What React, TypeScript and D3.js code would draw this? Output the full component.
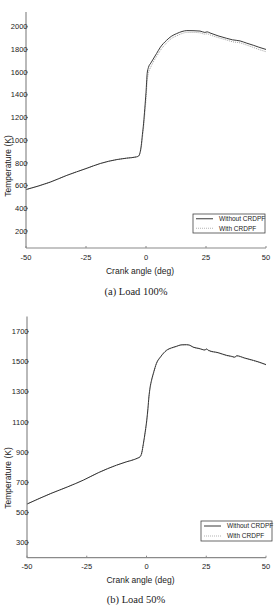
import { useMemo } from 'react';
import * as d3 from "d3";

// crank angle (deg) and in-cylinder temperature (K)
const anglesFull = [-50, -40, -33, -25, -19, -12, -8, -4, -3, -2.5, -2, -1.5, -1, -0.5, 0, 0.5, 1, 2, 3, 4.4, 6, 8.6, 10.5, 12.8, 15, 17, 20, 22.5, 24.5, 25.5, 26.7, 30, 33.6, 36, 39.2, 42, 44.7, 47, 50];
const fullWithout = [565, 630, 690, 750, 795, 830, 842, 853, 862, 890, 950, 1050, 1150, 1280, 1420, 1590, 1640, 1680, 1715, 1764, 1820, 1881, 1915, 1940, 1958, 1966, 1965, 1962, 1950, 1955, 1945, 1920, 1898, 1885, 1875, 1855, 1837, 1820, 1800];
const fullWith = [565, 630, 690, 750, 795, 830, 842, 853, 862, 885, 930, 1020, 1110, 1230, 1360, 1520, 1590, 1645, 1688, 1738, 1792, 1858, 1895, 1920, 1940, 1950, 1950, 1946, 1935, 1938, 1928, 1905, 1883, 1868, 1858, 1838, 1818, 1800, 1780];

const anglesHalf = [-50, -40, -33, -26.5, -20, -12.5, -8.4, -5, -3.5, -2.7, -2, -1.3, -0.5, 0.1, 0.6, 1, 1.5, 2.1, 3, 4.1, 6, 8.3, 10.5, 12.5, 14.5, 16.7, 18, 19.5, 22, 24.5, 25, 26, 30, 33.6, 35.5, 37, 37.7, 41, 44.7, 47, 50];
const halfWithout = [556, 626, 670, 714, 765, 814, 836, 852, 862, 869, 895, 958, 1040, 1112, 1190, 1266, 1330, 1377, 1430, 1487, 1535, 1575, 1592, 1602, 1612, 1613, 1610, 1597, 1588, 1578, 1585, 1575, 1560, 1542, 1536, 1530, 1540, 1525, 1509, 1498, 1481];
const halfWith = [556, 626, 670, 714, 765, 814, 836, 852, 862, 869, 892, 950, 1030, 1100, 1180, 1256, 1322, 1370, 1425, 1483, 1532, 1572, 1590, 1600, 1610, 1612, 1608, 1596, 1586, 1577, 1582, 1573, 1558, 1540, 1534, 1529, 1537, 1523, 1507, 1496, 1479];

const xTicks = [-50, -25, 0, 25, 50];
const yTicksFull = [200, 400, 600, 800, 1000, 1200, 1400, 1600, 1800, 2000];
const yTicksHalf = [300, 500, 700, 900, 1100, 1300, 1500, 1700];
const seriesNames = ["Without CRDPF", "With CRDPF"];

const AXIS = "#8a8a8a";
const SANS = "Arial, 'Liberation Sans', sans-serif";

type PanelProps = {
  top: number; x0: number; x1: number; y0: number; y1: number;
  yDomain: [number, number]; yTicks: number[];
  angles: number[]; a: number[]; b: number[];
  legend: [number, number, number, number];
  caption: string; capY: number; ylabY: number;
};

const Panel = ({ x0, x1, y0, y1, yDomain, yTicks, angles, a, b, legend, caption, capY, ylabY }: PanelProps) => {
  const x = useMemo(() => d3.scaleLinear().domain([-50, 50]).range([x0, x1]), [x0, x1]);
  const y = useMemo(() => d3.scaleLinear().domain(yDomain).range([y0, y1]), [yDomain, y0, y1]);
  const line = d3.line<number>().x((_, i) => x(angles[i])).y(d => y(d)).curve(d3.curveMonotoneX);
  const [lx0, ly0, lx1, ly1] = legend;
  const rowH = (ly1 - ly0) / 2;
  return (
    <g>
      <path d={line(b) || ""} fill="none" stroke="#9a9a9a" strokeWidth={0.9} strokeDasharray="1,1" />
      <path d={line(a) || ""} fill="none" stroke="#222" strokeWidth={0.9} />
      <line x1={x0} x2={x0} y1={y1} y2={y0} stroke={AXIS} strokeWidth={1.2} />
      <line x1={x0} x2={x1} y1={y0} y2={y0} stroke={AXIS} strokeWidth={1.2} />
      {yTicks.map(t => (
        <g key={t}>
          <line x1={x0} x2={x0 + 2} y1={y(t)} y2={y(t)} stroke={AXIS} />
          <text x={x0 + 1.5} y={y(t) + 2.6} textAnchor="end" fontSize={7.5} fontFamily={SANS} fill="#222">{t}</text>
        </g>
      ))}
      {xTicks.map(t => (
        <g key={t}>
          <line x1={x(t)} x2={x(t)} y1={y0} y2={y0 - 2} stroke={AXIS} />
          <text x={x(t)} y={y0 + 11.5} textAnchor="middle" fontSize={7.5} fontFamily={SANS} fill="#222">{t}</text>
        </g>
      ))}
      <text x={(x0 + x1) / 2 - 6} y={y0 + 25.5} textAnchor="middle" fontSize={8.5} fontFamily={SANS} fill="#222">Crank angle (deg)</text>
      <text transform={`translate(11,${ylabY}) rotate(-90)`} textAnchor="middle" fontSize={8.5} fontFamily={SANS} fill="#222">Temperature (K)</text>
      <rect x={lx0} y={ly0} width={lx1 - lx0} height={ly1 - ly0} fill="white" stroke="#444" strokeWidth={0.8} />
      {seriesNames.map((n, i) => (
        <g key={n}>
          <line x1={lx0 + 3} x2={lx0 + 20} y1={ly0 + rowH * (i + 0.5)} y2={ly0 + rowH * (i + 0.5)}
            stroke={i === 0 ? "#222" : "#aaa"} strokeWidth={0.9} strokeDasharray={i === 0 ? undefined : "1,1"} />
          <text x={lx0 + 26} y={ly0 + rowH * (i + 0.5) + 2.3} fontSize={6.5} fontFamily={SANS} fill="#222">{n}</text>
        </g>
      ))}
      <text x={136} y={capY} textAnchor="middle" fontSize={10.5} fontFamily="'Liberation Serif', 'Times New Roman', serif" fill="#222">{caption}</text>
    </g>
  );
};

export default function App() {
  return (
    <svg width={277} height={605} style={{ position: "absolute", left: 0, top: 0, background: "white" }}>
      <Panel top={0} x0={26} x1={266} y0={248} y1={12} yDomain={[50, 2130]} yTicks={yTicksFull}
        angles={anglesFull} a={fullWithout} b={fullWith} legend={[193, 214, 265, 233]}
        caption="(a) Load 100%" capY={294.5} ylabY={166} />
      <Panel top={300} x0={27} x1={266} y0={557.7} y1={316.5} yDomain={[200, 1800]} yTicks={yTicksHalf}
        angles={anglesHalf} a={halfWithout} b={halfWith} legend={[201, 521, 272, 541]}
        caption="(b) Load 50%" capY={602.5} ylabY={478} />
    </svg>
  );
}
